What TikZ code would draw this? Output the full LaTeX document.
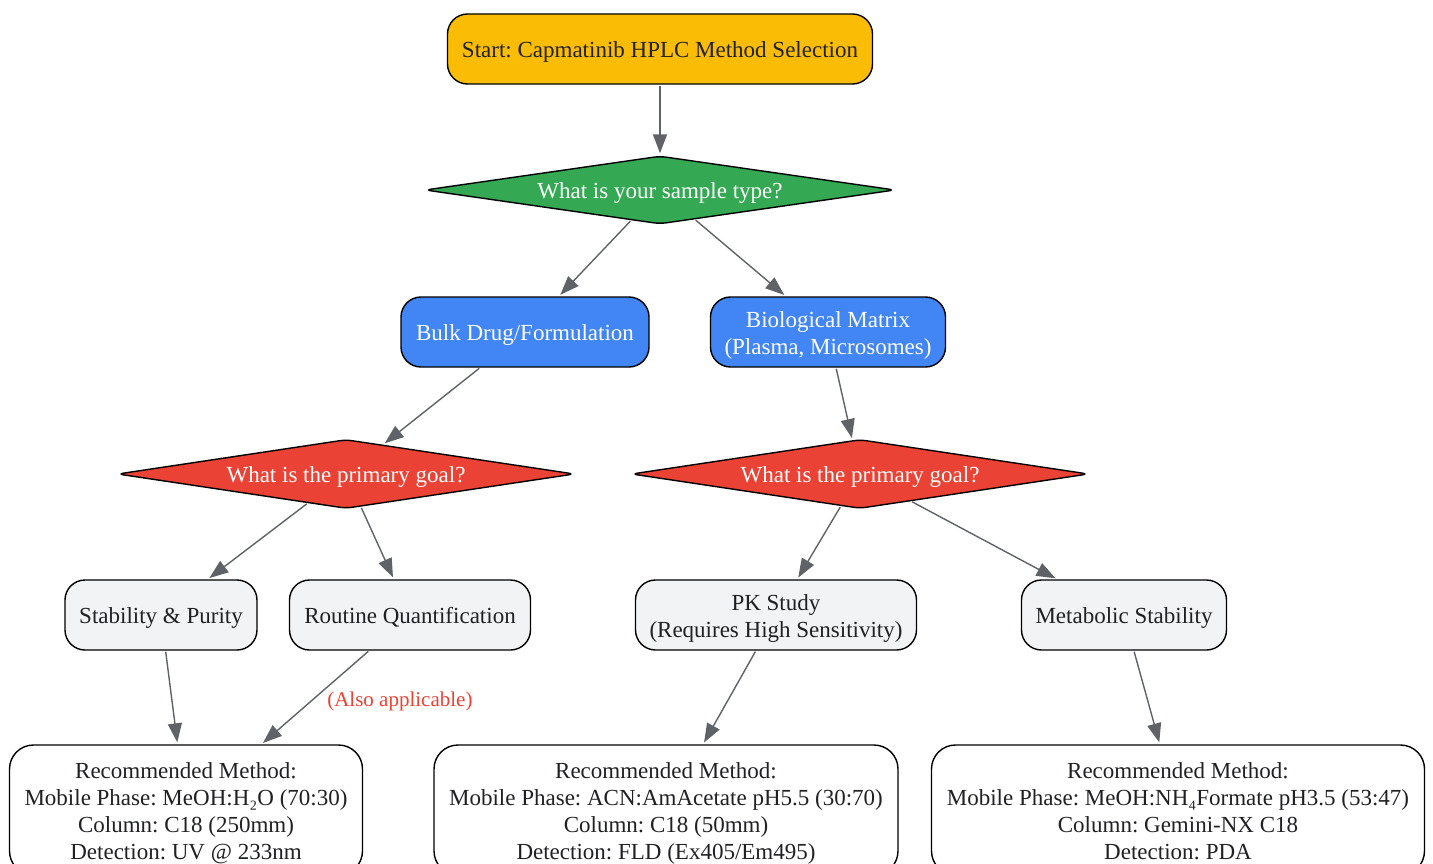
\documentclass[tikz,border=0pt]{standalone}
\usepackage{fontspec}
\setmainfont{Liberation Serif}
\frenchspacing
\usetikzlibrary{shapes.geometric,arrows.meta}
\definecolor{gyellow}{HTML}{FBBC05}
\definecolor{ggreen}{HTML}{34A853}
\definecolor{gblue}{HTML}{4285F4}
\definecolor{gred}{HTML}{EA4335}
\definecolor{ggray}{HTML}{F1F3F4}
\definecolor{gedge}{HTML}{5F6368}
\definecolor{gtext}{HTML}{202124}
\tikzset{
  base/.style={draw=black, line width=1.4pt, font=\fontsize{23}{27}\selectfont\frenchspacing, align=center, inner sep=0pt, text height=17pt, text depth=0pt},
  twolines/.style={text height=44pt},
  fourlines/.style={text height=98pt},
  rbox/.style={base, rectangle, rounded corners=20pt, minimum height=70pt},
  startbox/.style={rbox, fill=gyellow, text=gtext},
  typebox/.style={rbox, fill=gblue, text=white},
  goalbox/.style={rbox, fill=ggray, text=gtext},
  methodbox/.style={base, fourlines, rectangle, rounded corners=24pt, fill=white, text=gtext, minimum height=130pt},
  decision/.style={base, diamond, aspect=7, rounded corners=6pt, text=white},
  conn/.style={draw=gedge, line width=1.4pt, -{Triangle[length=19pt,width=14pt]}, shorten >=2pt, shorten <=1pt},
  note/.style={text=gred, font=\fontsize{21}{25}\selectfont}
}
\begin{document}
\begin{tikzpicture}[x=1pt,y=-1pt]
\clip (0,0) rectangle (1433,864);
\useasboundingbox (0,0) rectangle (1433,864);
\node[startbox, minimum width=425pt] (start) at (660,49) {Start: Capmatinib HPLC Method Selection};
\node[decision, fill=ggreen, minimum width=470pt, minimum height=68pt] (d1) at (660,190) {What is your sample type?};
\node[typebox, minimum width=248pt] (bulk) at (525,332) {Bulk Drug/Formulation};
\node[typebox, twolines, minimum width=235pt] (bio) at (828,332) {Biological Matrix\\(Plasma, Microsomes)};
\node[decision, fill=gred, minimum width=457pt, minimum height=69pt] (d2) at (346,474) {What is the primary goal?};
\node[decision, fill=gred, minimum width=457pt, minimum height=69pt] (d3) at (860,474) {What is the primary goal?};
\node[goalbox, minimum width=192pt] (stab) at (161,615) {Stability \& Purity};
\node[goalbox, minimum width=241pt] (routine) at (410,615) {Routine Quantification};
\node[goalbox, twolines, minimum width=281pt] (pk) at (776,615) {PK Study\\(Requires High Sensitivity)};
\node[goalbox, minimum width=205pt] (metab) at (1124,615) {Metabolic Stability};
\node[methodbox, minimum width=353pt] (rec1) at (186,810) {Recommended Method:\\Mobile Phase: MeOH:H₂O (70:30)\\Column: C18 (250mm)\\Detection: UV @ 233nm};
\node[methodbox, minimum width=464pt] (rec2) at (666,810) {Recommended Method:\\Mobile Phase: ACN:AmAcetate pH5.5 (30:70)\\Column: C18 (50mm)\\Detection: FLD (Ex405/Em495)};
\node[methodbox, minimum width=493pt] (rec3) at (1178,810) {Recommended Method:\\Mobile Phase: MeOH:NH₄Formate pH3.5 (53:47)\\Column: Gemini-NX C18\\Detection: PDA};
\draw[conn] (start) -- (d1);
\draw[conn] (d1) -- (bulk);
\draw[conn] (d1) -- (bio);
\draw[conn] (bulk) -- (d2);
\draw[conn] (bio) -- (d3);
\draw[conn] (d2) -- (stab);
\draw[conn] (d2) -- (routine);
\draw[conn] (d3) -- (pk);
\draw[conn] (d3) -- (metab);
\draw[conn] (stab) -- (rec1);
\draw[conn] (routine) -- node[note, right=8pt, pos=0.5, yshift=-4pt] (also) {(Also applicable)} (rec1);
\draw[conn] (pk) -- (rec2);
\draw[conn] (metab) -- (rec3);
\end{tikzpicture}
\end{document}
